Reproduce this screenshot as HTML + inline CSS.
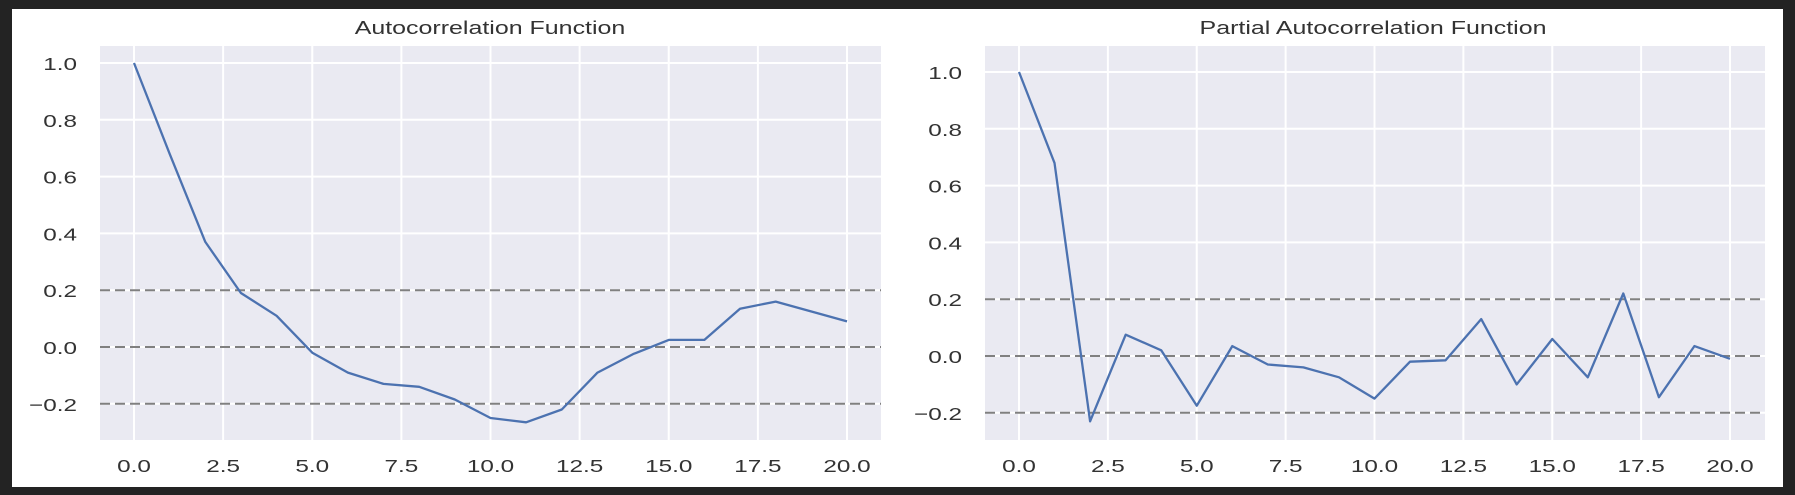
<!DOCTYPE html>
<html><head><meta charset="utf-8"><style>
html,body{margin:0;padding:0;background:#222;}
svg{display:block;font-family:"Liberation Sans",sans-serif;}
</style></head><body>
<svg id="c" width="1795" height="495">
<rect x="0" y="0" width="1795" height="495" fill="#232323"/>
<rect x="12" y="9" width="1771" height="478" fill="#ffffff"/>
</svg>
<script>
const lags = [0,1,2,3,4,5,6,7,8,9,10,11,12,13,14,15,16,17,18,19,20];
const acfValues = [1.0,0.68,0.37,0.19,0.11,-0.02,-0.09,-0.13,-0.14,-0.185,-0.25,-0.265,-0.22,-0.09,-0.025,0.025,0.025,0.135,0.16,0.125,0.09];
const pacfValues = [1.0,0.68,-0.23,0.075,0.02,-0.175,0.035,-0.03,-0.04,-0.075,-0.15,-0.02,-0.015,0.13,-0.10,0.06,-0.075,0.22,-0.145,0.035,-0.01];
const xTicks = [0,2.5,5,7.5,10,12.5,15,17.5,20];
const xTickLabels = ["0.0","2.5","5.0","7.5","10.0","12.5","15.0","17.5","20.0"];
const yTicks = [-0.2,0,0.2,0.4,0.6,0.8,1.0];
const yTickLabels = ["\u22120.2","0.0","0.2","0.4","0.6","0.8","1.0"];
const refLines = [0.2,0,-0.2];
const NS = "http://www.w3.org/2000/svg";
const svg = document.getElementById('c');
const SX = 1.35;
function mk(tag, attrs, parent){const e=document.createElementNS(NS,tag);for(const k in attrs)e.setAttribute(k,attrs[k]);(parent||svg).appendChild(e);return e;}
function label(g, x, y, anchor, size, txt, name){
  const t = mk('text',{transform:`translate(${x},${y}) scale(${SX},1)`,'text-anchor':anchor,'font-size':size,fill:'#333'},g);
  t.textContent = txt;
  
  
  return t;
}
function panel(cfg){
  const g = mk('g',{});
  
  
  const X = v => cfg.x0 + v*cfg.sx;
  const Y = v => cfg.y0 - v*cfg.sy;
  const bg = mk('rect',{x:cfg.left,y:cfg.top,width:cfg.right-cfg.left,height:cfg.bottom-cfg.top,fill:'#eaeaf2'},g);
  
  
  xTicks.forEach((t,i)=>{
    mk('line',{x1:X(t),x2:X(t),y1:cfg.top,y2:cfg.bottom,stroke:'#fff','stroke-width':2},g);
    label(g, X(t), cfg.bottom+32, 'middle', 18, xTickLabels[i], 'x-tick-label');
  });
  yTicks.forEach((t,i)=>{
    if (Y(t) < cfg.top || Y(t) > cfg.bottom) return;
    mk('line',{x1:cfg.left,x2:cfg.right,y1:Y(t),y2:Y(t),stroke:'#fff','stroke-width':2},g);
    label(g, cfg.left-23, Y(t)+7, 'end', 18, yTickLabels[i], 'y-tick-label');
  });
  refLines.forEach(r=>{
    const l = mk('line',{x1:cfg.left,x2:cfg.right,y1:Y(r),y2:Y(r),stroke:'#808080','stroke-width':2,'stroke-dasharray':'10,5'},g);
    
    
  });
  const pts = lags.map((l,i)=>X(l).toFixed(1)+','+Y(cfg.values[i]).toFixed(1)).join(' ');
  const pl = mk('polyline',{points:pts,fill:'none',stroke:'#4c72b0','stroke-width':2.3,'stroke-linejoin':'round'},g);
  
  
  label(g, cfg.titleX, 34, 'middle', 18.5, cfg.title, 'chart-title');
}
panel({name:'acf-panel',title:'Autocorrelation Function',titleX:490,values:acfValues,left:100,right:881,top:46,bottom:440,x0:134,sx:35.65,y0:347,sy:284});
panel({name:'pacf-panel',title:'Partial Autocorrelation Function',titleX:1373,values:pacfValues,left:985,right:1765,top:46,bottom:440,x0:1019,sx:35.55,y0:356,sy:284});
</script>
</body></html>
